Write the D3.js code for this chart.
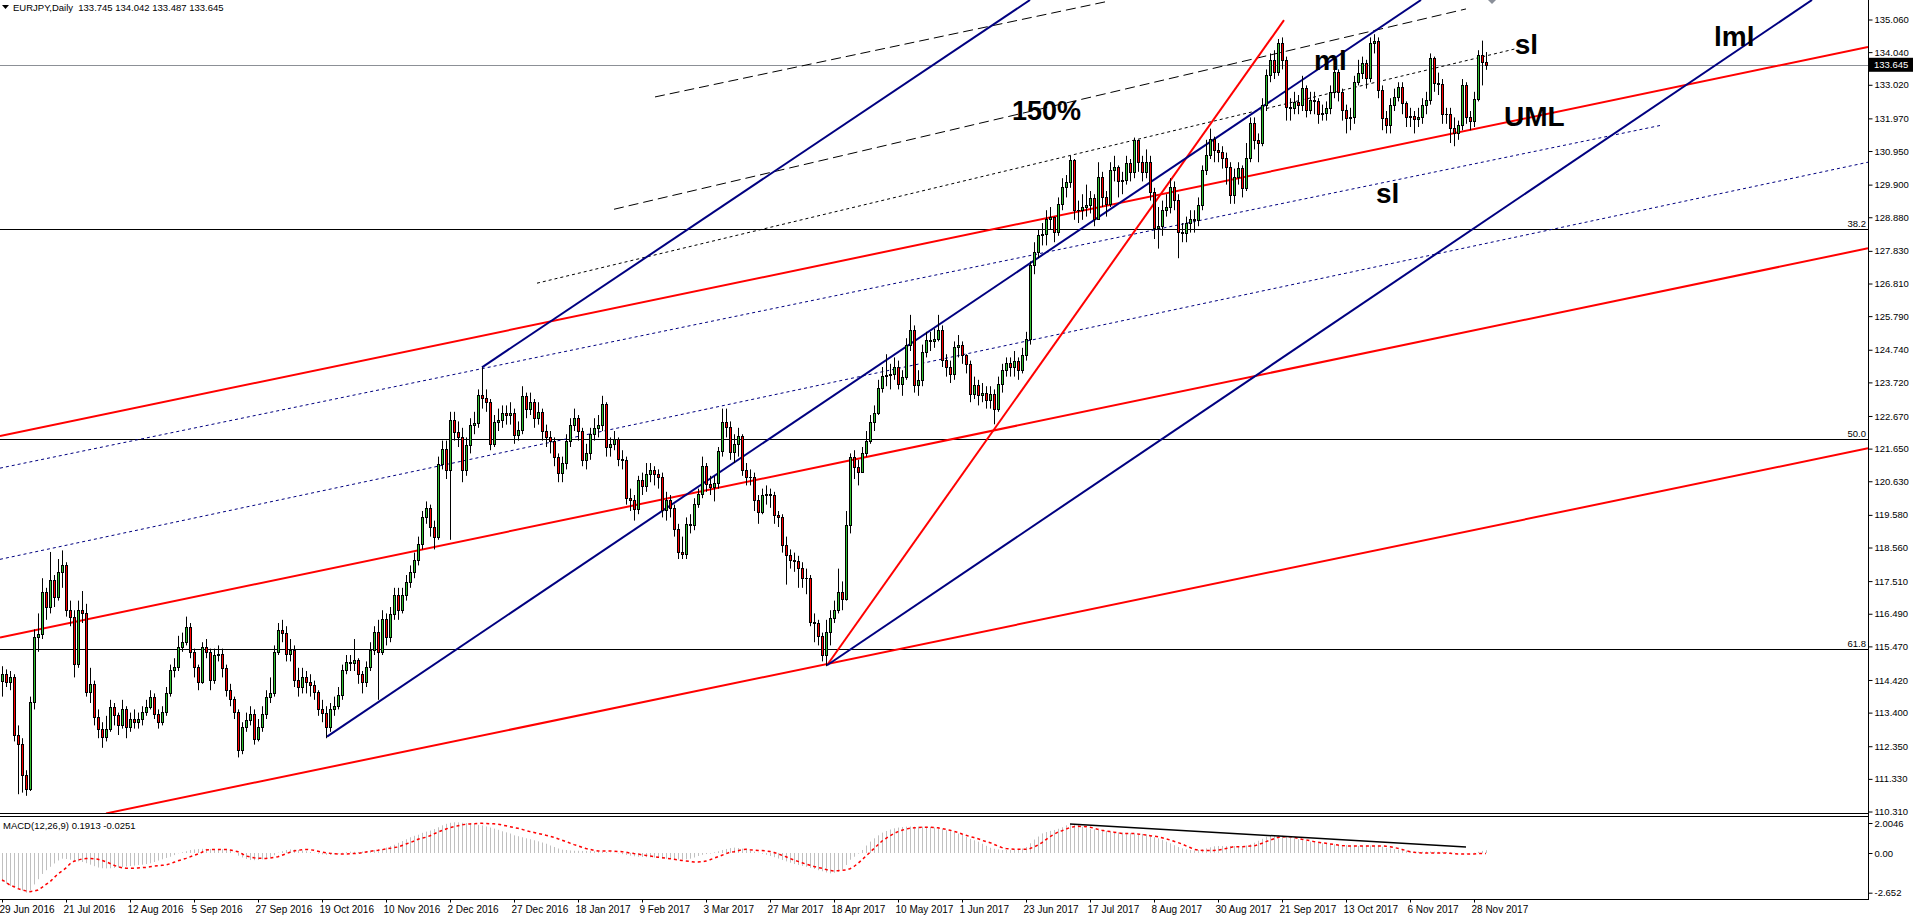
<!DOCTYPE html>
<html><head><meta charset="utf-8">
<script src="https://cdn.jsdelivr.net/npm/d3@7"></script>
<style>
body{margin:0;background:#fff;overflow:hidden}
svg text{font-family:"Liberation Sans",Arial,sans-serif}
</style>
</head><body>
<svg id="c" width="1913" height="919"></svg>
<script>
// ---------------- DATA ----------------
const symbolTitle = "EURJPY,Daily  133.745 134.042 133.487 133.645";
const macdTitle = "MACD(12,26,9) 0.1913 -0.0251";
const firstOpen = 114.40;
const closes = [
114.62,114.36,114.5,112.69,112.43,111.44,111.02,113.73,115.76,115.87,
117.17,116.7,117.54,117.0,117.8,118.0,116.6,116.4,114.93,116.6,
116.5,114.04,114.3,113.26,112.9,112.64,112.9,113.58,113.32,113.0,
113.52,112.95,113.21,113.1,113.2,113.42,113.58,113.89,113.37,113.1,
113.42,114.0,114.72,114.83,115.45,115.61,116.08,115.3,114.83,114.36,
115.45,115.3,114.41,115.19,115.24,114.78,114.1,113.84,113.42,112.22,
112.95,113.16,113.37,112.58,112.95,113.37,113.89,114.0,115.3,115.97,
115.9,115.24,115.35,114.41,114.2,114.5,114.36,114.25,114.04,113.52,
113.4,112.95,113.52,113.6,113.94,114.72,114.98,114.95,115.04,114.62,
114.36,114.83,115.35,115.92,115.3,116.34,115.76,116.49,117.07,116.6,
117.07,117.48,117.8,118.16,118.68,119.52,119.78,119.2,118.9,121.18,
121.65,120.98,122.54,122.17,122.02,120.98,121.76,122.38,122.45,123.32,
123.22,123.1,121.81,122.49,122.54,122.75,122.7,122.75,122.07,122.23,
123.3,122.9,123.1,122.6,122.8,122.2,122.0,121.9,121.4,120.9,
121.2,121.9,122.4,122.6,122.2,121.3,121.5,122.1,122.3,122.4,
123.06,121.7,121.79,121.96,121.34,121.3,120.12,120.06,119.75,120.66,
120.48,120.87,120.99,120.85,120.75,119.72,120.04,119.78,119.15,118.42,
118.35,119.3,119.25,119.93,120.22,121.11,120.56,120.45,120.58,121.57,
122.49,122.33,121.55,121.81,122.04,120.97,120.77,120.75,120.04,119.67,
120.19,120.22,120.2,119.57,119.5,118.63,118.32,118.18,118.15,117.93,
117.62,117.6,116.23,116.2,115.78,115.19,115.92,116.37,116.6,117.17,
116.96,119.25,121.39,121.08,120.92,121.5,121.88,122.47,122.75,123.55,
123.91,123.94,123.98,124.2,123.68,123.89,124.88,125.35,123.63,123.79,
124.67,125.06,125.0,125.09,125.37,124.43,124.21,123.98,124.83,124.9,
124.57,124.31,123.35,123.63,123.32,123.4,123.16,123.37,122.9,123.66,
124.1,124.33,124.2,124.38,124.1,124.57,125.09,127.38,127.8,128.32,
128.37,128.84,128.9,128.42,129.31,129.83,129.99,130.66,129.1,129.1,
129.21,129.26,129.47,128.84,130.14,129.52,129.31,130.35,130.46,130.0,
130.04,130.56,130.3,131.29,130.61,130.3,130.61,129.67,128.53,128.6,
129.1,129.21,129.83,129.41,128.42,128.4,128.7,128.84,128.8,129.26,
130.35,130.82,131.34,130.98,130.92,130.72,130.46,129.57,130.14,130.41,
129.78,130.72,131.83,131.29,131.2,132.39,133.33,133.8,133.43,134.31,
133.8,132.33,132.3,132.49,132.4,132.91,132.23,132.54,132.5,132.12,
132.15,132.28,132.8,133.43,132.8,132.23,131.97,132.0,133.12,133.38,
133.69,133.22,134.31,134.4,132.85,131.97,131.76,132.39,132.65,132.96,
132.44,132.02,132.05,131.95,132.0,132.39,132.54,133.85,133.06,133.05,
132.12,132.1,131.66,131.5,131.76,133.02,132.02,131.9,132.59,133.95,
133.745,133.645];
const highs = [
114.85,114.75,114.7,114.6,113.0,112.6,111.6,113.9,116.0,116.5,
117.6,117.3,118.42,117.7,118.2,118.47,118.1,116.9,116.6,116.9,
117.2,116.8,114.8,114.4,113.5,113.1,113.3,113.8,113.7,113.4,
113.8,113.6,113.4,113.5,113.4,113.6,113.8,114.1,114.0,113.5,
113.6,114.2,114.9,115.1,115.8,115.9,116.4,116.2,115.4,114.9,
115.6,115.7,115.4,115.4,115.5,115.4,114.9,114.3,113.9,113.5,
113.1,113.4,113.6,113.5,113.2,113.6,114.1,114.5,115.5,116.2,
116.3,116.1,115.7,115.5,114.8,114.8,114.7,114.6,114.4,114.1,
113.8,113.6,113.7,113.9,114.2,114.9,115.2,115.2,115.7,115.1,
114.7,115.0,115.6,116.1,116.3,116.6,116.5,116.7,117.3,117.3,
117.3,117.7,118.0,118.4,118.9,119.7,120.0,119.9,119.4,121.4,
121.9,121.9,122.8,122.8,122.5,122.3,122.0,122.6,122.8,123.5,
124.19,123.5,123.2,122.7,122.9,123.0,123.0,123.1,122.9,122.5,
123.6,123.4,123.4,123.2,123.1,122.9,122.4,122.2,122.0,121.5,
121.4,122.1,122.6,122.9,122.7,122.3,121.8,122.3,122.6,122.7,
123.3,123.1,122.0,122.2,122.0,121.6,121.4,120.4,120.2,120.8,
120.9,121.2,121.2,121.1,121.0,120.9,120.3,120.2,119.9,119.3,
118.9,119.5,119.6,120.1,120.4,121.4,121.2,120.8,120.8,121.7,
122.9,122.9,122.5,122.1,122.3,122.1,121.2,121.0,120.9,120.2,
120.4,120.5,120.4,120.3,119.7,119.6,118.9,118.5,118.4,118.3,
118.1,117.9,117.7,116.5,116.3,115.9,116.3,116.6,116.9,117.9,
117.5,119.7,121.5,121.6,121.3,121.7,122.2,122.7,123.0,123.8,
124.2,124.6,124.3,124.5,124.4,124.1,125.1,125.83,125.5,124.1,
124.9,125.3,125.3,125.4,125.83,125.5,124.6,124.4,125.0,125.2,
125.0,124.6,124.4,123.9,123.8,123.7,123.6,123.6,123.5,123.9,
124.3,124.5,124.5,124.7,124.5,124.8,125.3,127.5,128.1,128.5,
128.7,129.1,129.2,128.9,129.5,130.1,130.2,130.8,130.7,129.4,
129.6,129.9,129.7,129.6,130.6,130.3,129.7,130.6,130.8,130.5,
130.3,130.8,130.7,131.37,131.3,130.8,131.0,130.8,129.8,129.2,
129.4,129.6,130.1,130.0,129.6,128.7,128.9,129.1,129.1,129.5,
130.5,131.3,131.65,131.4,131.2,131.1,130.9,130.6,130.4,130.6,
130.5,131.2,132.0,132.0,131.5,132.6,133.5,134.0,134.1,134.45,
134.5,133.9,132.6,132.8,132.7,133.3,133.0,132.8,132.8,132.6,
132.4,132.5,133.0,133.6,133.5,132.9,132.4,132.3,133.3,133.8,
133.9,133.8,134.5,134.6,134.5,133.0,132.2,132.6,132.9,133.1,
133.1,132.5,132.3,132.2,132.3,132.6,132.8,134.0,133.9,133.4,
133.2,132.3,132.3,132.0,131.9,133.2,133.1,132.2,132.8,134.1,
134.4,134.042];
const lows = [
113.9,114.2,114.1,112.5,110.85,110.9,110.8,110.95,113.5,115.3,
115.7,116.3,116.5,116.7,116.9,117.3,116.4,116.1,114.5,114.8,
116.2,113.9,113.7,113.0,112.6,112.3,112.5,112.8,113.0,112.7,
112.9,112.6,112.8,112.9,112.9,113.0,113.3,113.5,113.2,112.9,
113.0,113.3,113.9,114.5,114.7,115.3,115.5,115.1,114.5,114.1,
114.3,115.1,114.1,114.3,115.0,114.5,113.9,113.6,113.2,112.0,
112.1,112.8,113.0,112.4,112.5,112.8,113.2,113.7,113.9,115.2,
115.6,115.0,115.0,114.2,113.9,114.0,114.0,113.9,113.8,113.3,
113.1,112.6,112.8,113.3,113.5,113.8,114.6,114.7,114.7,114.3,
114.0,114.2,114.7,115.2,113.8,115.2,115.5,115.6,116.3,116.3,
116.5,116.9,117.3,117.6,118.0,118.5,119.3,118.9,118.5,118.8,
121.0,120.7,118.8,121.9,121.7,120.6,120.8,121.5,122.1,122.3,
122.9,122.8,121.6,121.7,122.2,122.3,122.4,122.4,121.8,121.9,
122.1,122.6,122.7,122.3,122.4,121.9,121.7,121.5,121.1,120.6,
120.6,121.0,121.7,122.2,121.9,121.1,121.0,121.3,121.9,122.0,
122.2,121.4,121.4,121.6,121.1,121.0,119.9,119.7,119.4,119.6,
120.2,120.3,120.6,120.5,120.4,119.5,119.4,119.5,118.9,118.2,
118.2,118.2,119.0,119.1,119.8,120.1,120.3,120.2,120.0,120.4,
121.4,122.0,121.3,121.2,121.4,120.8,120.5,120.5,119.7,119.3,
119.6,119.9,119.8,119.3,119.2,118.4,117.4,117.9,117.8,117.3,
117.3,117.1,116.1,115.6,115.5,115.0,114.85,115.5,116.2,116.5,
116.6,116.9,119.0,120.7,120.5,120.9,121.4,121.8,122.2,122.7,
123.4,123.6,123.5,123.8,123.5,123.3,123.8,124.7,123.4,123.3,
123.6,124.5,124.7,124.8,125.0,124.2,123.9,123.7,123.8,124.5,
124.3,124.0,123.1,123.2,123.0,123.1,122.9,122.9,122.41,122.8,
123.4,123.9,123.9,123.9,123.8,124.0,124.4,124.9,127.1,127.6,
128.0,128.0,128.5,128.1,128.3,129.1,129.5,129.8,128.8,128.7,
128.8,128.9,129.0,128.6,128.8,129.2,128.9,129.2,130.0,129.5,
129.6,129.9,130.0,130.1,130.3,130.0,130.1,129.4,128.2,127.9,
128.3,128.9,129.0,129.1,127.6,128.1,128.1,128.4,128.4,128.6,
129.1,130.2,130.7,130.6,130.6,130.4,129.9,129.3,129.3,129.9,
129.5,129.7,130.6,131.0,130.6,131.1,132.2,133.1,133.2,133.3,
133.5,131.9,131.9,132.1,132.1,132.2,132.0,132.1,132.1,131.8,
131.9,131.9,132.1,132.6,132.5,131.9,131.5,131.6,131.8,133.0,
133.2,132.9,133.1,134.0,132.6,131.6,131.5,131.5,132.2,132.5,
132.1,131.7,131.7,131.5,131.7,131.8,132.1,132.4,132.8,132.7,
131.8,131.8,131.2,131.1,131.3,131.6,131.8,131.6,131.7,132.5,
133.0,133.487];
const macdMain = [
-1.92,-2.05,-2.2,-2.3,-2.4,-2.5,-2.65,-2.5,-2.1,-1.75,
-1.4,-1.15,-0.92,-0.7,-0.5,-0.38,-0.4,-0.45,-0.52,-0.56,
-0.6,-0.68,-0.78,-0.88,-0.97,-1.02,-1.03,-1.02,-1.0,-0.97,
-0.94,-0.9,-0.87,-0.84,-0.8,-0.78,-0.74,-0.69,-0.6,-0.5,
-0.42,-0.33,-0.25,-0.14,-0.02,0.05,0.12,0.2,0.24,0.27,
0.28,0.28,0.27,0.27,0.26,0.25,0.22,0.16,0.02,-0.18,
-0.3,-0.4,-0.47,-0.48,-0.47,-0.43,-0.37,-0.29,-0.15,0.02,
0.12,0.2,0.24,0.23,0.2,0.16,0.12,0.07,0.02,-0.04,
-0.09,-0.12,-0.13,-0.09,-0.03,0.02,0.06,0.09,0.08,0.07,
0.1,0.13,0.16,0.2,0.23,0.27,0.36,0.47,0.55,0.68,
0.8,0.92,1.05,1.15,1.22,1.35,1.43,1.5,1.6,1.72,
1.85,1.95,2.02,2.05,2.05,2.02,2.0,1.97,1.93,1.88,
1.84,1.77,1.7,1.63,1.55,1.45,1.38,1.3,1.18,1.12,
1.05,0.98,0.92,0.85,0.78,0.7,0.62,0.5,0.4,0.3,
0.22,0.2,0.17,0.15,0.15,0.14,0.14,0.13,0.12,0.1,
0.09,0.06,0.03,0.02,-0.02,-0.08,-0.13,-0.18,-0.22,-0.25,
-0.27,-0.28,-0.29,-0.31,-0.34,-0.36,-0.38,-0.4,-0.42,-0.43,
-0.43,-0.42,-0.38,-0.3,-0.2,-0.12,-0.07,-0.04,0.04,0.12,
0.2,0.27,0.33,0.36,0.33,0.29,0.25,0.17,0.09,0.02,
-0.05,-0.12,-0.2,-0.28,-0.37,-0.47,-0.56,-0.65,-0.74,-0.8,
-0.86,-0.92,-0.99,-1.07,-1.15,-1.22,-1.3,-1.36,-1.32,-1.25,
-1.1,-0.8,-0.45,-0.25,-0.04,0.2,0.5,0.76,0.98,1.18,
1.36,1.47,1.57,1.65,1.7,1.74,1.76,1.77,1.76,1.76,
1.76,1.75,1.74,1.7,1.65,1.58,1.52,1.45,1.38,1.3,
1.2,1.08,0.95,0.85,0.76,0.62,0.48,0.35,0.28,0.24,
0.2,0.2,0.21,0.23,0.25,0.3,0.4,0.65,0.9,1.1,
1.31,1.4,1.48,1.54,1.62,1.72,1.85,1.9,1.94,1.85,
1.75,1.65,1.6,1.58,1.54,1.5,1.46,1.43,1.4,1.38,
1.36,1.34,1.32,1.31,1.3,1.28,1.25,1.15,1.05,0.98,
0.88,0.76,0.65,0.52,0.4,0.31,0.25,0.2,0.16,0.2,
0.26,0.31,0.38,0.45,0.47,0.47,0.46,0.47,0.47,0.47,
0.47,0.5,0.58,0.69,0.82,0.95,1.09,1.15,1.2,1.18,
1.15,1.09,1.02,0.97,0.92,0.86,0.8,0.76,0.72,0.68,
0.65,0.62,0.6,0.58,0.56,0.54,0.53,0.51,0.49,0.47,
0.47,0.48,0.5,0.49,0.47,0.42,0.35,0.3,0.25,0.22,
0.19,0.16,0.14,0.12,0.09,0.09,0.09,0.1,0.09,0.08,
0.08,0.06,0.04,0.02,0.0,-0.02,-0.02,0.0,0.02,0.08,
0.14,0.19];
const macdSignal = [
-1.8,-1.95,-2.15,-2.25,-2.38,-2.47,-2.53,-2.58,-2.55,-2.47,
-2.3,-2.1,-1.92,-1.65,-1.4,-1.2,-1.0,-0.72,-0.55,-0.47,
-0.4,-0.37,-0.36,-0.38,-0.42,-0.5,-0.58,-0.7,-0.82,-0.92,
-0.98,-1.02,-1.02,-1.02,-1.0,-0.98,-0.96,-0.92,-0.88,-0.85,
-0.82,-0.8,-0.72,-0.62,-0.52,-0.44,-0.36,-0.26,-0.16,-0.07,
0.05,0.2,0.22,0.24,0.24,0.24,0.24,0.2,0.15,0.08,
-0.05,-0.2,-0.26,-0.32,-0.35,-0.36,-0.36,-0.33,-0.29,-0.25,
-0.15,-0.05,0.05,0.14,0.18,0.22,0.24,0.22,0.18,0.12,
0.06,0.02,-0.02,-0.05,-0.07,-0.07,-0.07,-0.05,-0.03,-0.02,
0.02,0.07,0.11,0.15,0.18,0.22,0.27,0.31,0.36,0.4,
0.5,0.6,0.69,0.8,0.92,1.0,1.05,1.15,1.28,1.4,
1.5,1.6,1.7,1.76,1.82,1.88,1.92,1.94,1.96,1.98,
1.98,1.97,1.96,1.95,1.92,1.87,1.82,1.76,1.7,1.65,
1.58,1.5,1.43,1.37,1.3,1.25,1.18,1.12,1.05,0.95,
0.86,0.76,0.66,0.56,0.48,0.38,0.3,0.24,0.18,0.14,
0.13,0.13,0.13,0.12,0.1,0.09,0.05,0.0,-0.04,-0.07,
-0.12,-0.16,-0.2,-0.24,-0.28,-0.31,-0.35,-0.38,-0.42,-0.46,
-0.5,-0.53,-0.56,-0.6,-0.6,-0.58,-0.54,-0.45,-0.35,-0.25,
-0.15,-0.05,0.05,0.09,0.15,0.22,0.25,0.22,0.2,0.16,
0.16,0.14,0.1,0.03,-0.05,-0.16,-0.25,-0.36,-0.47,-0.56,
-0.65,-0.74,-0.82,-0.9,-0.97,-1.02,-1.1,-1.17,-1.2,-1.18,
-1.15,-1.13,-1.05,-0.9,-0.69,-0.45,-0.2,0.05,0.3,0.55,
0.8,0.98,1.15,1.3,1.43,1.52,1.6,1.65,1.68,1.71,
1.72,1.72,1.72,1.71,1.68,1.63,1.58,1.52,1.45,1.38,
1.27,1.18,1.1,1.03,0.95,0.85,0.76,0.69,0.58,0.47,
0.36,0.3,0.27,0.25,0.25,0.25,0.25,0.3,0.4,0.53,
0.7,0.9,1.09,1.25,1.4,1.49,1.6,1.7,1.76,1.78,
1.77,1.76,1.72,1.66,1.58,1.52,1.47,1.43,1.39,1.35,
1.31,1.31,1.31,1.31,1.27,1.24,1.2,1.16,1.12,1.09,
1.02,0.95,0.87,0.78,0.7,0.6,0.48,0.37,0.25,0.2,
0.17,0.16,0.16,0.17,0.19,0.23,0.3,0.37,0.42,0.42,
0.42,0.44,0.46,0.47,0.55,0.65,0.76,0.86,0.95,1.05,
1.07,1.08,1.09,1.05,0.98,0.92,0.87,0.82,0.76,0.72,
0.68,0.65,0.6,0.57,0.53,0.5,0.48,0.47,0.47,0.47,
0.47,0.47,0.47,0.47,0.47,0.47,0.45,0.42,0.37,0.31,
0.24,0.16,0.09,0.05,0.02,0.0,0.0,0.0,0.0,0.0,
0.0,0.0,-0.02,-0.04,-0.07,-0.07,-0.07,-0.07,-0.06,-0.04,
-0.03,-0.025];
const dateLabels = ["29 Jun 2016","21 Jul 2016","12 Aug 2016","5 Sep 2016","27 Sep 2016","19 Oct 2016","10 Nov 2016","2 Dec 2016","27 Dec 2016","18 Jan 2017","9 Feb 2017","3 Mar 2017","27 Mar 2017","18 Apr 2017","10 May 2017","1 Jun 2017","23 Jun 2017","17 Jul 2017","8 Aug 2017","30 Aug 2017","21 Sep 2017","13 Oct 2017","6 Nov 2017","28 Nov 2017"];
const dateLabelBars = [0,16,32,48,64,80,96,112,128,144,160,176,192,208,224,240,256,272,288,304,320,336,352,368];
const priceTicks = [135.060,134.040,133.020,131.970,130.950,129.900,128.880,127.830,126.810,125.790,124.740,123.720,122.670,121.650,120.630,119.580,118.560,117.510,116.490,115.470,114.420,113.400,112.350,111.330,110.310];
const macdTicks = [2.0046, 0.00, -2.652];
const macdTickLabels = ["2.0046","0.00","-2.652"];
const lastPrice = 133.645;
const fibLevels = [128.51, 121.945, 115.375];
const fibLabels = ["38.2","50.0","61.8"];
// trend lines: [barIndex, price] pairs
const redLines = [
  [[-0.5,122.04],[466.5,134.20]],
  [[-0.5,115.75],[466.5,127.91]],
  [[26,110.25],[466.5,121.66]],
  [[206.25,114.88],[320.5,135.04]]
];
const blueLines = [
  [[120,124.19],[257,135.67]],
  [[81.25,112.65],[354.75,135.67]],
  [[206.25,114.88],[452.5,135.67]]
];
const blueDotLines = [
  [[-0.5,121.04],[415,131.76]],
  [[-0.5,118.19],[466.5,130.60]]
];
const blackDashLines = [
  [[163.25,132.64],[275.75,135.61]],
  [[153,129.13],[366,135.39]]
];
const blackDotLines = [
  [[133.75,126.82],[378.25,134.14]]
];
const macdTrend = [[267,1.94],[366,0.40]];
const annotations = [
  {t:"150%", i:252.5, p:131.92},
  {t:"ml", i:328, p:133.48},
  {t:"sl", i:378.2, p:133.98},
  {t:"UML", i:375.5, p:131.73},
  {t:"sl", i:343.5, p:129.33},
  {t:"lml", i:428, p:134.22}
];

// ---------------- LAYOUT ----------------
const AX = 1868, MAIN_BOT = 813, MACD_TOP = 816, MACD_BOT = 899;
const svg = d3.select("#c");
const n = closes.length;
const x = d3.scaleLinear().domain([0, n-1]).range([2, 1486]);
const y = d3.scaleLinear().domain([110.31, 135.06]).range([811.5, 19.5]);
const ym = d3.scaleLinear().domain([-2.652, 2.0046]).range([892.7, 823]);

const defs = svg.append("defs");
defs.append("clipPath").attr("id","cm").append("rect").attr("x",0).attr("y",0).attr("width",AX).attr("height",MAIN_BOT);
defs.append("clipPath").attr("id","cd").append("rect").attr("x",0).attr("y",MACD_TOP+1).attr("width",AX).attr("height",MACD_BOT-MACD_TOP-1);

const main = svg.append("g").attr("clip-path","url(#cm)");
const mg = svg.append("g").attr("clip-path","url(#cd)");

// horizontal levels
fibLevels.forEach((p,k)=>{
  const yy = Math.round(y(p))+0.5;
  main.append("line").attr("x1",0).attr("x2",AX).attr("y1",yy).attr("y2",yy).attr("stroke","#000").attr("stroke-width",1);
  svg.append("text").attr("x",AX-2).attr("y",yy-3).attr("text-anchor","end").attr("font-size","9.5px").text(fibLabels[k]);
});
{
  const yy = Math.round(y(lastPrice))+0.5;
  main.append("line").attr("x1",0).attr("x2",AX).attr("y1",yy).attr("y2",yy).attr("stroke","#8c9096").attr("stroke-width",1);
}

function drawLines(g, arr, color, width, dash){
  arr.forEach(l=>{
    g.append("line").attr("x1",x(l[0][0])).attr("y1",y(l[0][1])).attr("x2",x(l[1][0])).attr("y2",y(l[1][1]))
      .attr("stroke",color).attr("stroke-width",width).attr("stroke-dasharray",dash||null);
  });
}
drawLines(main, blackDashLines, "#000", 1, "10,5");
drawLines(main, blackDotLines, "#000", 1, "3,3");
drawLines(main, blueDotLines, "#000080", 1, "3,3");
drawLines(main, redLines, "#ff0000", 2);
drawLines(main, blueLines, "#000080", 2);

// candles
const cg = main.append("g");
closes.forEach((c,i)=>{
  const o = i===0 ? firstOpen : closes[i-1];
  const hi = Math.max(highs[i], o, c), lo = Math.min(lows[i], o, c);
  const xx = Math.round(x(i));
  cg.append("line").attr("x1",xx+0.5).attr("x2",xx+0.5).attr("y1",y(hi)).attr("y2",y(lo)).attr("stroke","#000").attr("stroke-width",1);
  const top = Math.round(y(Math.max(o,c))), bot = Math.round(y(Math.min(o,c)));
  const h = Math.max(bot-top, 0);
  if (h < 1) {
    cg.append("line").attr("x1",xx-1).attr("x2",xx+2).attr("y1",top+0.5).attr("y2",top+0.5).attr("stroke","#000");
  } else {
    cg.append("rect").attr("x",xx-0.5).attr("y",top+0.5).attr("width",2).attr("height",h)
      .attr("fill", c>=o ? "#2fc12f" : "#ff0000").attr("stroke","#000").attr("stroke-width",1);
  }
});

// grey diamond marker at top
main.append("path").attr("d",`M${x(372.5)},-4 l4,4 l-4,4 l-4,-4 z`).attr("fill","#8a8f99");

// annotations
annotations.forEach(a=>{
  svg.append("text").attr("x",x(a.i)).attr("y",y(a.p)).attr("font-size", a.t==="150%"?"27px":"28px")
    .attr("font-weight","bold").attr("fill","#000").text(a.t);
});

// ---- MACD panel ----
const zy = ym(0);
macdMain.forEach((v,i)=>{
  const xx = Math.round(x(i))+0.5;
  mg.append("line").attr("x1",xx).attr("x2",xx).attr("y1",zy).attr("y2",ym(v)).attr("stroke","#c0c0c0").attr("stroke-width",1);
});
mg.append("path").datum(macdSignal)
  .attr("d", d3.line().x((d,i)=>x(i)).y(d=>ym(d)))
  .attr("fill","none").attr("stroke","#ff0000").attr("stroke-width",1.5).attr("stroke-dasharray","3,3");
mg.append("line").attr("x1",x(macdTrend[0][0])).attr("y1",ym(macdTrend[0][1])).attr("x2",x(macdTrend[1][0])).attr("y2",ym(macdTrend[1][1]))
  .attr("stroke","#000").attr("stroke-width",1.5);

// panel frames
svg.append("line").attr("x1",0).attr("x2",AX+1).attr("y1",MAIN_BOT+0.5).attr("y2",MAIN_BOT+0.5).attr("stroke","#000");
svg.append("line").attr("x1",0).attr("x2",AX+1).attr("y1",MACD_TOP+0.5).attr("y2",MACD_TOP+0.5).attr("stroke","#000");
svg.append("line").attr("x1",0).attr("x2",AX+1).attr("y1",MACD_BOT+0.5).attr("y2",MACD_BOT+0.5).attr("stroke","#000");
svg.append("line").attr("x1",AX+0.5).attr("x2",AX+0.5).attr("y1",0).attr("y2",MACD_BOT+1).attr("stroke","#000");

// price axis
const pa = svg.append("g").attr("transform",`translate(${AX+0.5},0)`)
  .call(d3.axisRight(y).tickValues(priceTicks).tickFormat(d=>d.toFixed(3)).tickSize(4).tickPadding(2));
pa.select(".domain").remove();
pa.selectAll("text").attr("font-size","9.5px").attr("font-family","Liberation Sans, Arial, sans-serif").attr("fill","#000");
pa.selectAll("line").attr("stroke","#000");

// macd axis
const ma = svg.append("g").attr("transform",`translate(${AX+0.5},0)`)
  .call(d3.axisRight(ym).tickValues(macdTicks).tickFormat((d,i)=>macdTickLabels[i]).tickSize(4).tickPadding(2));
ma.select(".domain").remove();
ma.selectAll("text").attr("font-size","9.5px").attr("font-family","Liberation Sans, Arial, sans-serif").attr("fill","#000");

// last price label
{
  const yy = y(lastPrice);
  svg.append("rect").attr("x",AX+1).attr("y",yy-7).attr("width",45).attr("height",14).attr("fill","#000");
  svg.append("text").attr("x",AX+6).attr("y",yy+3.5).attr("font-size","9.5px").attr("fill","#fff").text(lastPrice.toFixed(3));
}

// time axis
const ta = svg.append("g").attr("transform",`translate(0,${MACD_BOT+0.5})`)
  .call(d3.axisBottom(x).tickValues(dateLabelBars).tickFormat((d,i)=>dateLabels[i]).tickSize(3).tickPadding(3));
ta.select(".domain").remove();
ta.selectAll("text").attr("text-anchor","start").attr("dx","-3").attr("font-size","10px")
  .attr("font-family","Liberation Sans, Arial, sans-serif").attr("fill","#000");
ta.selectAll("line").attr("stroke","#000");

// titles
svg.append("path").attr("d","M2,5 L9,5 L5.5,9 Z").attr("fill","#000");
svg.append("text").attr("x",13).attr("y",11).attr("font-size","9.5px").style("white-space","pre").text(symbolTitle);
svg.append("text").attr("x",3).attr("y",829).attr("font-size","9.5px").text(macdTitle);
</script>
</body></html>
